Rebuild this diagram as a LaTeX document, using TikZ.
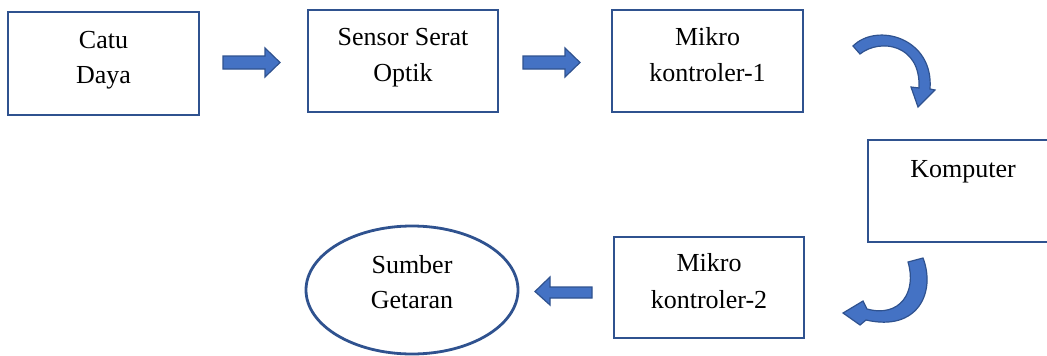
\documentclass[tikz,border=0pt]{standalone}
\usepackage{fontspec}
\setmainfont{Liberation Serif}
\usetikzlibrary{shapes.geometric}
\definecolor{edge}{RGB}{47,82,143}
\definecolor{afill}{RGB}{68,114,196}
\tikzset{
  box/.style={draw=edge, line width=2.8pt, rectangle, inner sep=0pt},
  oval/.style={draw=edge, line width=2.8pt, ellipse, inner sep=0pt},
  txt/.style={anchor=base, inner sep=0pt, font=\fontsize{26}{35}\selectfont},
  blockarrow/.style={fill=afill, draw=edge, line width=1.2pt, line join=miter}
}
\begin{document}
\begin{tikzpicture}[x=1pt,y=-1pt]
\useasboundingbox (0,0) rectangle (1047,356);
\clip (0,0) rectangle (1047,356);
% boxes
\node[box, minimum width=191pt, minimum height=103pt] (catu) at (103.5,63.5) {};
\node[box, minimum width=190pt, minimum height=102pt] (sensor) at (403,61) {};
\node[box, minimum width=191pt, minimum height=102pt] (mk1) at (707.5,61) {};
\node[box, minimum width=194pt, minimum height=102pt] (komp) at (965,191) {};
\node[box, minimum width=190pt, minimum height=101pt] (mk2) at (709,287.5) {};
\node[oval, minimum width=212pt, minimum height=128pt] (sumber) at (412,290) {};
% texts
\node[txt] (t1a) at (103.5,48) {Catu};
\node[txt] (t1b) at (103.5,83) {Daya};
\node[txt] (t2a) at (403,45) {Sensor Serat};
\node[txt] (t2b) at (403,81) {Optik};
\node[txt] (t3a) at (707.5,45) {Mikro};
\node[txt] (t3b) at (707.5,81) {kontroler-1};
\node[txt] (t4) at (963,177) {Komputer};
\node[txt] (t5a) at (709,271) {Mikro};
\node[txt] (t5b) at (709,308) {kontroler-2};
\node[txt] (t6a) at (412,273) {Sumber};
\node[txt] (t6b) at (412,308) {Getaran};
% straight block arrows
\draw[blockarrow] (223,56) -- (265,56) -- (265,48) -- (280,62.5) -- (265,77) -- (265,69) -- (223,69) -- cycle;
\draw[blockarrow] (523,56) -- (565,56) -- (565,48) -- (580,62.5) -- (565,77) -- (565,69) -- (523,69) -- cycle;
\draw[blockarrow] (592,287) -- (550,287) -- (550,277) -- (535,291.5) -- (550,305) -- (550,298) -- (592,298) -- cycle;
% curved arrow 1 (top right)
\draw[blockarrow] (853,46) -- (860,54)
  .. controls (880,38) and (921,44) .. (919,88)
  -- (911,87) -- (918,107) -- (935,90) -- (930,89)
  .. controls (934,38) and (877,22) .. (853,46) -- cycle;
% curved arrow 2 (bottom right)
\draw[blockarrow] (908,262) -- (923,258)
  .. controls (936,292) and (918,332) .. (866,320)
  -- (860,325) -- (843,313) -- (863,301) -- (867,309)
  .. controls (900,318) and (917,292) .. (908,262) -- cycle;
\end{tikzpicture}
\end{document}
